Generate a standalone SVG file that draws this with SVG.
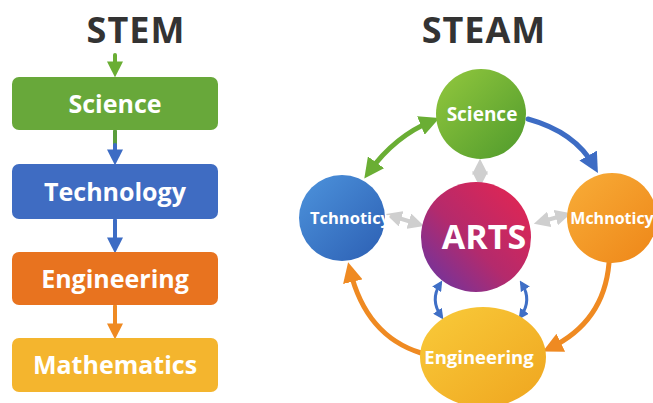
<svg xmlns="http://www.w3.org/2000/svg" width="653" height="403" viewBox="0 0 653 403">
  <defs>
    <linearGradient id="gGreen" x1="0" y1="0" x2="1" y2="1">
      <stop offset="0" stop-color="#93c83e"/>
      <stop offset="1" stop-color="#4f9a2c"/>
    </linearGradient>
    <linearGradient id="gBlue" x1="0" y1="0" x2="1" y2="1">
      <stop offset="0" stop-color="#4d93dc"/>
      <stop offset="1" stop-color="#2c5fb3"/>
    </linearGradient>
    <linearGradient id="gOrange" x1="0" y1="0" x2="1" y2="1">
      <stop offset="0" stop-color="#f8ad38"/>
      <stop offset="1" stop-color="#ee8618"/>
    </linearGradient>
    <linearGradient id="gYellow" x1="0" y1="0" x2="1" y2="1">
      <stop offset="0" stop-color="#f9cb3a"/>
      <stop offset="1" stop-color="#efa51f"/>
    </linearGradient>
    <linearGradient id="gArts" x1="0" y1="1" x2="1" y2="0">
      <stop offset="0" stop-color="#6236a8"/>
      <stop offset="0.45" stop-color="#b42a6c"/>
      <stop offset="1" stop-color="#e8254f"/>
    </linearGradient>
    <marker id="mGreen" viewBox="0 0 10 10" refX="6" refY="5" markerWidth="4" markerHeight="4" orient="auto-start-reverse">
      <path d="M0,0 L10,5 L0,10 z" fill="#6aae34"/>
    </marker>
    <marker id="mBlue" viewBox="0 0 10 10" refX="6" refY="5" markerWidth="4" markerHeight="4" orient="auto-start-reverse">
      <path d="M0,0 L10,5 L0,10 z" fill="#3d6cc4"/>
    </marker>
    <marker id="mOrange" viewBox="0 0 10 10" refX="6" refY="5" markerWidth="4" markerHeight="4" orient="auto-start-reverse">
      <path d="M0,0 L10,5 L0,10 z" fill="#ef8a22"/>
    </marker>
    <marker id="mGrey" viewBox="0 0 10 10" refX="6" refY="5" markerWidth="4" markerHeight="4" orient="auto-start-reverse">
      <path d="M0,0 L10,5 L0,10 z" fill="#cfcfcf"/>
    </marker>
    <marker id="mSmallBlue" viewBox="0 0 10 10" refX="6" refY="5" markerWidth="3.5" markerHeight="3.5" orient="auto-start-reverse">
      <path d="M0,0 L10,5 L0,10 z" fill="#3f6fc6"/>
    </marker>
  </defs>
  <style>
    text { font-family: "Open Sans", "Liberation Sans", sans-serif; font-weight: 700; text-anchor: middle; }
    .title { fill: #333333; font-size: 36px; letter-spacing: 1px; }
    .lbl { fill: #ffffff; }
    .box { font-size: 25px; }
    .conn { fill: none; stroke-linecap: round; }
  </style>

  <rect width="653" height="403" fill="#ffffff"/>

  <!-- titles -->
  <text class="title" x="136" y="43">STEM</text>
  <text class="title" x="484" y="43">STEAM</text>

  <!-- STEM chain connectors -->
  <g id="stem-connectors">
    <path class="conn" d="M115,55 V71" stroke="#6aae34" stroke-width="4" marker-end="url(#mGreen)"/>
    <path class="conn" d="M115,131 V145" stroke="#5a9d3c" stroke-width="4"/>
    <path class="conn" d="M115,145 V159" stroke="#3d6cc4" stroke-width="4" marker-end="url(#mBlue)"/>
    <path class="conn" d="M115,220 V247" stroke="#3d6cc4" stroke-width="4" marker-end="url(#mBlue)"/>
    <path class="conn" d="M115,306 V333" stroke="#ef8a22" stroke-width="4" marker-end="url(#mOrange)"/>
  </g>

  <!-- STEM boxes -->
  <g id="stem-science">
    <rect x="12" y="77" width="206" height="53" rx="7" fill="#68a83a"/>
    <text class="lbl box" x="115" y="113">Science</text>
  </g>
  <g id="stem-technology">
    <rect x="12" y="164" width="206" height="55" rx="7" fill="#3f6cc2"/>
    <text class="lbl box" x="115" y="201">Technology</text>
  </g>
  <g id="stem-engineering">
    <rect x="12" y="252" width="206" height="53" rx="7" fill="#e8731f"/>
    <text class="lbl box" x="115" y="288">Engineering</text>
  </g>
  <g id="stem-mathematics">
    <rect x="12" y="338" width="206" height="54" rx="7" fill="#f4b52e"/>
    <text class="lbl box" x="115" y="374">Mathematics</text>
  </g>

  <!-- STEAM cycle connectors -->
  <g id="steam-connectors">
    <path class="conn" d="M369,172 Q395,136 432,121" stroke="#6aae34" stroke-width="5" marker-start="url(#mGreen)" marker-end="url(#mGreen)"/>
    <path class="conn" d="M528,119 Q575,132 594,166" stroke="#3d6cc4" stroke-width="5" marker-end="url(#mBlue)"/>
    <path class="conn" d="M609,263 Q604,322 550,348" stroke="#ef8a22" stroke-width="5" marker-end="url(#mOrange)"/>
    <path class="conn" d="M421,353 Q366,336 350,270" stroke="#ef8a22" stroke-width="5" marker-end="url(#mOrange)"/>
    <path class="conn" d="M480,165 V181" stroke="#cfcfcf" stroke-width="4" marker-start="url(#mGrey)" marker-end="url(#mGrey)"/>
    <path class="conn" d="M392,216 L418,224" stroke="#cfcfcf" stroke-width="4" marker-start="url(#mGrey)" marker-end="url(#mGrey)"/>
    <path class="conn" d="M540,222 L565,215" stroke="#cfcfcf" stroke-width="4" marker-start="url(#mGrey)" marker-end="url(#mGrey)"/>
    <path class="conn" d="M440,284 Q430,300 441,316" stroke="#3f6fc6" stroke-width="3" marker-start="url(#mSmallBlue)" marker-end="url(#mSmallBlue)"/>
    <path class="conn" d="M522,284 Q532,300 521,316" stroke="#3f6fc6" stroke-width="3" marker-start="url(#mSmallBlue)" marker-end="url(#mSmallBlue)"/>
  </g>

  <!-- STEAM nodes -->
  <g id="steam-science">
    <circle cx="481" cy="114" r="45" fill="url(#gGreen)"/>
    <text class="lbl" x="482" y="121" font-size="19">Science</text>
  </g>
  <g id="steam-technology">
    <circle cx="342" cy="218" r="43" fill="url(#gBlue)"/>
    <text class="lbl" x="350" y="224" font-size="16.5">Tchnoticy</text>
  </g>
  <g id="steam-arts">
    <circle cx="476" cy="237" r="55" fill="url(#gArts)"/>
    <text class="lbl" x="484" y="249" font-size="34">ARTS</text>
  </g>
  <g id="steam-mathematics">
    <circle cx="612" cy="218" r="45" fill="url(#gOrange)"/>
    <text class="lbl" x="612" y="224" font-size="16">Mchnoticy</text>
  </g>
  <g id="steam-engineering">
    <ellipse cx="483" cy="357" rx="63" ry="50" fill="url(#gYellow)"/>
    <text class="lbl" x="479" y="364" font-size="18.5">Engineering</text>
  </g>
</svg>
